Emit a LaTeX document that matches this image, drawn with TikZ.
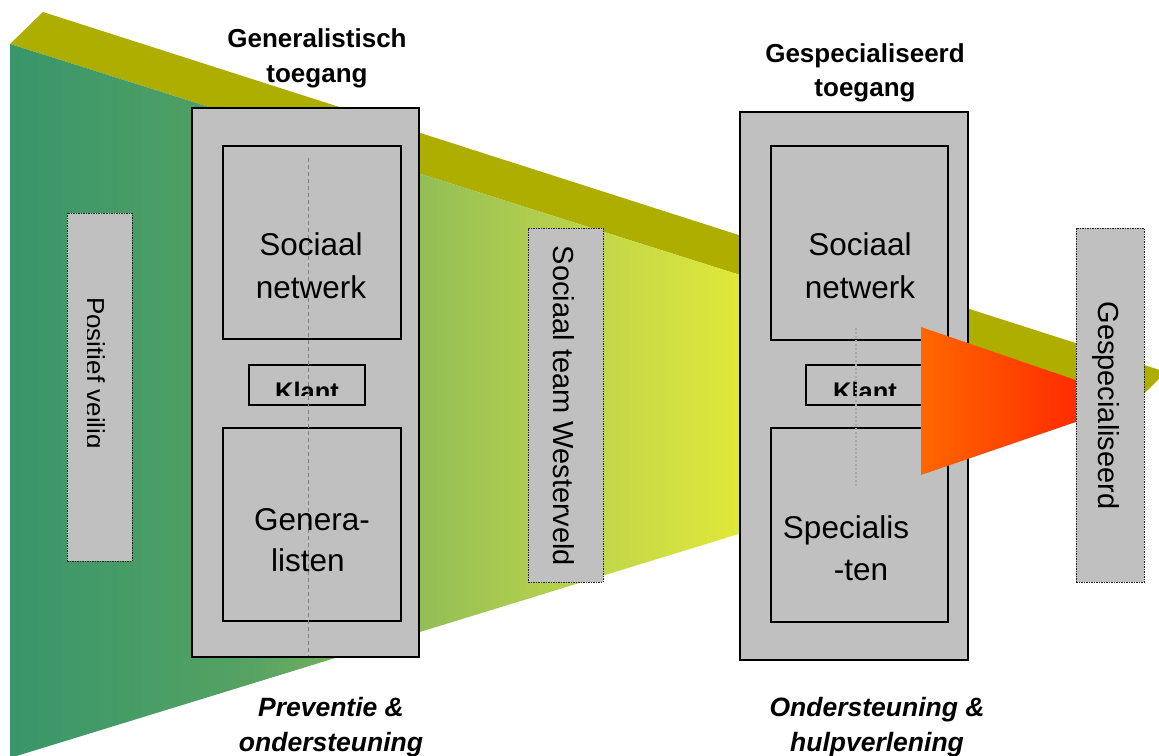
\documentclass[tikz,border=0pt]{standalone}
\usepackage{fontspec}
\setmainfont{Liberation Sans}
\definecolor{stripolive}{RGB}{174,174,0}
\definecolor{boxgray}{RGB}{192,192,192}
\definecolor{fA}{RGB}{56,150,106}
\definecolor{fB}{RGB}{86,162,99}
\definecolor{fC}{RGB}{146,190,86}
\definecolor{fD}{RGB}{193,214,74}
\definecolor{fE}{RGB}{224,232,56}
\definecolor{redL}{RGB}{255,102,0}
\definecolor{redR}{RGB}{255,22,0}
\begin{document}
\begin{tikzpicture}[x=1pt,y=-1pt,
  bigbox/.style={draw=black,line width=2pt,fill=boxgray,inner sep=0pt},
  innerbox/.style={draw=black,line width=1.5pt,fill=boxgray,inner sep=0pt},
  klantbox/.style={draw=black,line width=1.5pt,fill=boxgray,inner sep=0pt},
  labelbox/.style={draw=black!85,line width=0.8pt,dash pattern=on 1.5pt off 1pt,fill=boxgray,inner sep=0pt},
  boxtext/.style={font=\fontsize{31.5}{36}\selectfont,anchor=base,inner sep=0pt},
  titletext/.style={font=\bfseries\fontsize{26}{30}\selectfont,anchor=base,inner sep=0pt},
  bottomtext/.style={font=\bfseries\itshape\fontsize{26.5}{30}\selectfont,anchor=base,inner sep=0pt},
  klanttext/.style={font=\bfseries\fontsize{25.5}{30}\selectfont,anchor=base,inner sep=0pt},
  vtext/.style={font=\fontsize{29}{34}\selectfont,rotate=-90,anchor=base,inner sep=0pt},
  axisline/.style={draw=black!50,line width=1pt,dash pattern=on 4pt off 3pt},
  dotline/.style={draw=black!35,line width=1.3pt,dash pattern=on 2pt off 2pt}
]
\useasboundingbox (0,0) rectangle (1159,755);
\begin{scope}
\clip (0,0) rectangle (1159,755);
% olive top face
\fill[stripolive] (10,44) -- (43,12) -- (1166,372) -- (1137,400.6) -- cycle;
% funnel with gradient
\begin{scope}
\clip (10,44) -- (950,341.4) -- (950,469) -- (10,758) -- cycle;
\shade[left color=fA,right color=fB] (9,0) rectangle (250.6,760);
\shade[left color=fB,right color=fC] (250,0) rectangle (420.6,760);
\shade[left color=fC,right color=fD] (420,0) rectangle (600.6,760);
\shade[left color=fD,right color=fE] (600,0) rectangle (740.6,760);
\fill[fE] (740,0) rectangle (960,760);
\end{scope}

% dashed label boxes
\node[labelbox,minimum width=65pt,minimum height=348pt] (pos) at (99.5,387) {};
\begin{scope}
\clip (87.5,213) rectangle (132,561);
\node[vtext,font=\fontsize{26}{30}\selectfont] (posT) at (86,373) {Positief veilig};
\end{scope}
\node[labelbox,minimum width=75pt,minimum height=354pt] (stw) at (565.5,405) {};
\node[vtext] (stwT) at (553,406) {Sociaal team Westerveld};

% generalist column
\node[bigbox,minimum width=227pt,minimum height=549pt] (gen) at (305.5,382.5) {};
\node[innerbox,minimum width=178pt,minimum height=193pt] (genTop) at (312,242.5) {};
\node[innerbox,minimum width=178pt,minimum height=193pt] (genBot) at (312,524.5) {};
\node[klantbox,minimum width=116pt,minimum height=40pt] (genK) at (307,385) {};
\begin{scope}
\clip (249,365) rectangle (365,395);
\node[klanttext] (genKT) at (307,400) {Klant};
\end{scope}
\coordinate (ga1) at (308,158);
\coordinate (ga2) at (308,656);
\draw[axisline] (ga1) -- (ga2);
\node[boxtext] (gs1) at (311,255) {Sociaal};
\node[boxtext] (gs2) at (311,298) {netwerk};
\node[boxtext] (gg1) at (312,530) {Genera-};
\node[boxtext] (gg2) at (308,571) {listen};

% specialist column
\node[bigbox,minimum width=228pt,minimum height=548pt] (spec) at (854,386) {};
\node[innerbox,minimum width=177pt,minimum height=194pt] (specTop) at (859.5,243) {};
\node[innerbox,minimum width=177pt,minimum height=194pt] (specBot) at (859.5,525) {};
\node[klantbox,minimum width=116pt,minimum height=40pt] (specK) at (864,385) {};
\begin{scope}
\clip (806,365) rectangle (922,395);
\node[klanttext] (specKT) at (865,400) {Klant};
\end{scope}
\coordinate (sa1) at (856,328);
\coordinate (sa2) at (856,487);
\draw[dotline] (sa1) -- (sa2);
\node[boxtext] (ss1) at (860,255) {Sociaal};
\node[boxtext] (ss2) at (860,298) {netwerk};
\node[boxtext] (sp1) at (846,538) {Specialis};
\node[boxtext] (sp2) at (861,580) {-ten};

% red triangle
\shade[left color=redL,right color=redR] (921,327) -- (1137,401) -- (921,475) -- cycle;

% right label box
\node[labelbox,minimum width=68pt,minimum height=354pt] (gsp) at (1110,405) {};
\node[vtext] (gspT) at (1098,405.5) {Gespecialiseerd};

% titles
\node[titletext] (ti1a) at (317,47) {Generalistisch};
\node[titletext] (ti1b) at (317,82) {toegang};
\node[titletext] (ti2a) at (865,62) {Gespecialiseerd};
\node[titletext] (ti2b) at (865,96) {toegang};
% bottom captions
\node[bottomtext] (bo1a) at (331,716) {Preventie \&};
\node[bottomtext] (bo1b) at (331,751) {ondersteuning};
\node[bottomtext] (bo2a) at (877,716) {Ondersteuning \&};
\node[bottomtext] (bo2b) at (877,751) {hulpverlening};
\end{scope}
\end{tikzpicture}
\end{document}
